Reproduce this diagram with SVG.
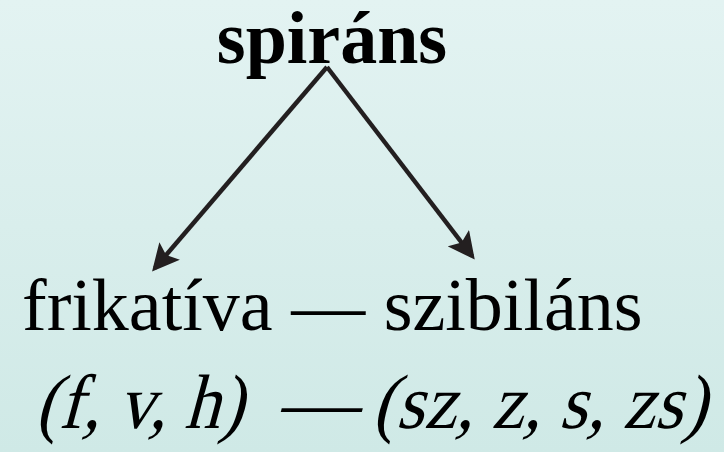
<svg xmlns="http://www.w3.org/2000/svg" width="724" height="452" viewBox="0 0 724 452">
<defs>
<linearGradient id="bg" x1="0" y1="0" x2="0" y2="1">
<stop offset="0" stop-color="#e3f3f2"/>
<stop offset="1" stop-color="#cfe9e6"/>
</linearGradient>
<marker id="ah" markerWidth="6" markerHeight="6" refX="5" refY="3" orient="auto" markerUnits="strokeWidth">
<path d="M0,0 L6,3 L0,6 L1.2,3 Z" fill="#231f20"/>
</marker>
<style>
.t{font-family:"Liberation Serif","Times New Roman",serif;fill:#000}
.b{font-weight:bold;font-size:74px}
.r{font-size:74px}
.i{font-size:77px}
.c{stroke:#231f20;stroke-width:4.5;fill:none}
</style>
</defs>
<rect width="724" height="452" fill="url(#bg)"/>
<g id="connectors">
<path class="c" d="M327,67 L155,268" marker-end="url(#ah)"/>
<path class="c" d="M327,67 L472,256" marker-end="url(#ah)"/>
</g>
<g id="spirans"><text class="t b" x="332" y="63" text-anchor="middle">spiráns</text></g>
<g id="frikativa"><text class="t r" x="22" y="330">frikatíva — szibiláns</text></g>
<g id="examples" transform="translate(0,428) skewX(-15) translate(0,-428)">
<text class="t i" x="35" y="428" textLength="208" lengthAdjust="spacingAndGlyphs">(f, v, h)</text>
<text class="t i" x="277" y="428" textLength="80" lengthAdjust="spacingAndGlyphs">—</text>
<text class="t i" x="372" y="428" textLength="334" lengthAdjust="spacingAndGlyphs">(sz, z, s, zs)</text>
</g>
</svg>
